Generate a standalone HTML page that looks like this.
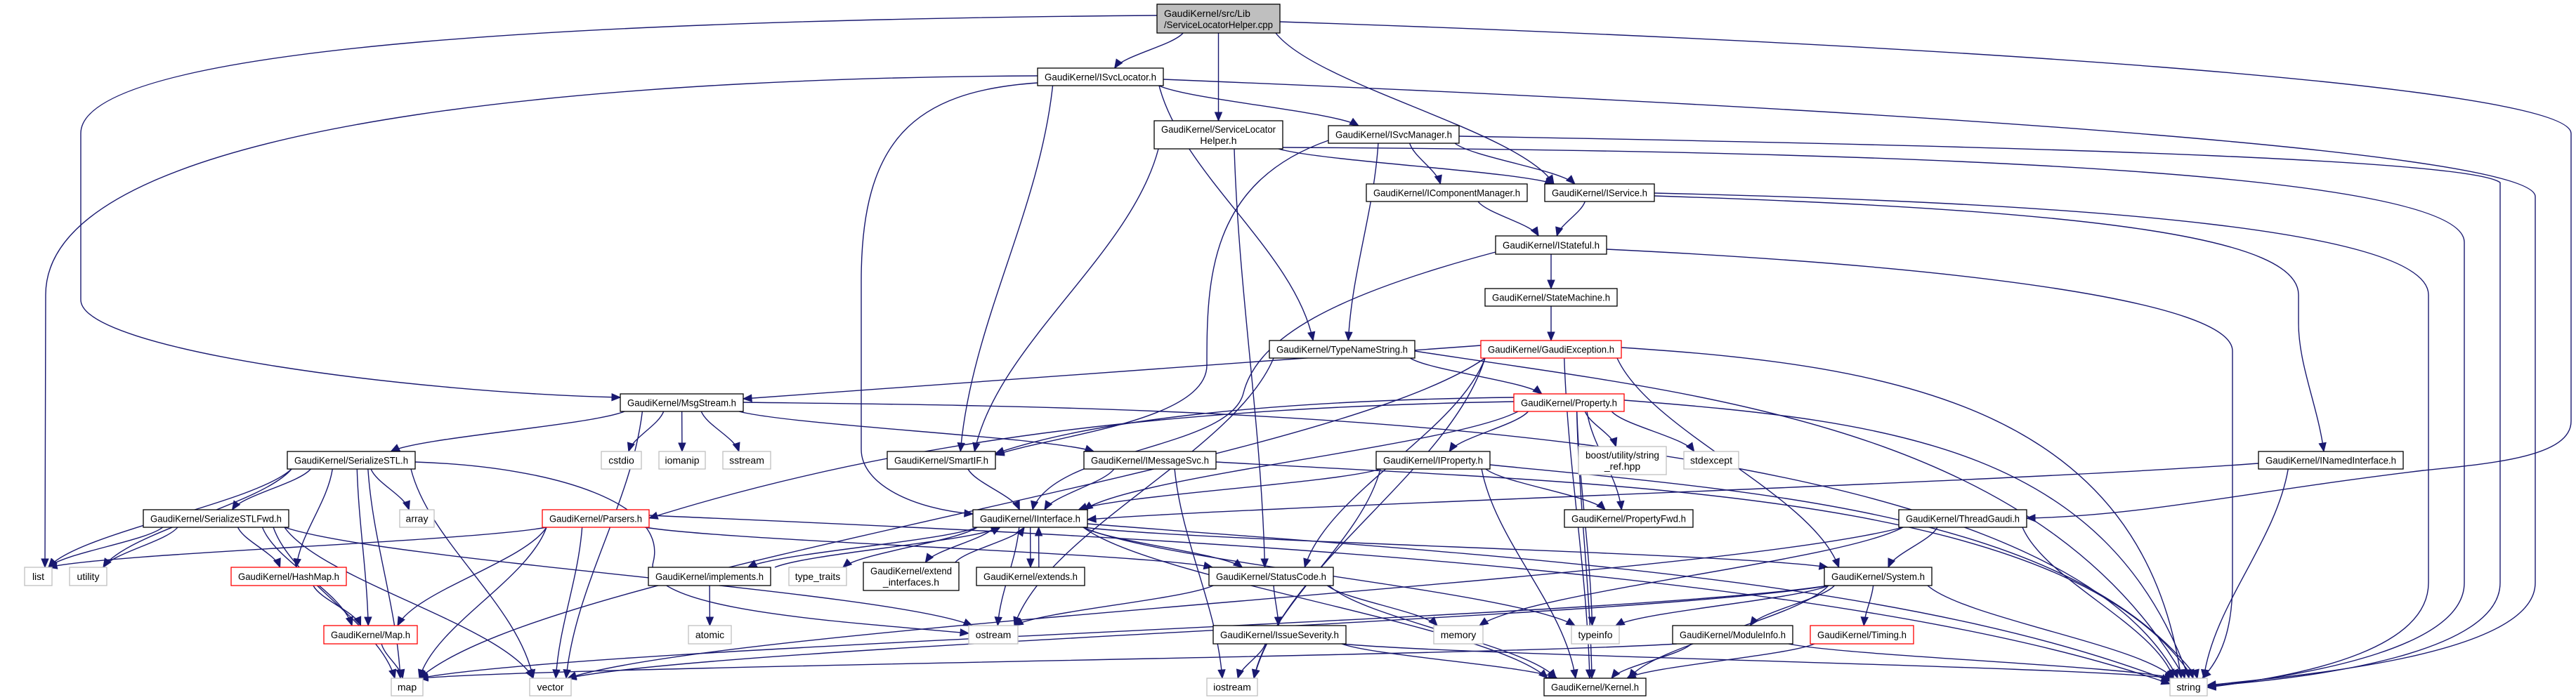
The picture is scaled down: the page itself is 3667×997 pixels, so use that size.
<!DOCTYPE html>
<html><head><meta charset="utf-8"><style>
html,body{margin:0;padding:0;background:#fff;}
svg{display:block;}
text{font-family:"Liberation Sans",Arial,sans-serif;font-size:14px;fill:#000;}
</style></head><body>
<svg id="s" xmlns="http://www.w3.org/2000/svg" width="3667" height="997" viewBox="0 0 3667 997">
<rect width="3667" height="997" fill="#fff"/>
<g id="E" fill="none" stroke="#191970" stroke-width="1.4"></g>
<g id="A" fill="#191970" stroke="#191970" stroke-width="1"></g>
<g id="N">
<rect id="root" x="1647" y="6" width="175" height="41" fill="#bfbfbf" stroke="#000" stroke-width="1.3"/>
<text x="1657" y="24">GaudiKernel/src/Lib</text>
<text x="1657" y="40" textLength="155" lengthAdjust="spacingAndGlyphs">/ServiceLocatorHelper.cpp</text>

<rect id="isl" x="1477" y="97" width="179" height="25" fill="#fff" stroke="#000" stroke-width="1.3"/>
<text x="1566.5" y="114.5" text-anchor="middle" textLength="159" lengthAdjust="spacingAndGlyphs">GaudiKernel/ISvcLocator.h</text>

<rect id="slh" x="1643" y="172" width="183" height="40" fill="#fff" stroke="#000" stroke-width="1.3"/>
<text x="1734.5" y="189" text-anchor="middle" textLength="163" lengthAdjust="spacingAndGlyphs">GaudiKernel/ServiceLocator</text>
<text x="1734.5" y="205" text-anchor="middle">Helper.h</text>

<rect id="ism" x="1891" y="179" width="186" height="25" fill="#fff" stroke="#000" stroke-width="1.3"/>
<text x="1984" y="196.5" text-anchor="middle" textLength="166" lengthAdjust="spacingAndGlyphs">GaudiKernel/ISvcManager.h</text>

<rect id="icm" x="1945" y="262" width="229" height="25" fill="#fff" stroke="#000" stroke-width="1.3"/>
<text x="2059.5" y="279.5" text-anchor="middle" textLength="209" lengthAdjust="spacingAndGlyphs">GaudiKernel/IComponentManager.h</text>

<rect id="isv" x="2199" y="262" width="156" height="25" fill="#fff" stroke="#000" stroke-width="1.3"/>
<text x="2277" y="279.5" text-anchor="middle" textLength="136" lengthAdjust="spacingAndGlyphs">GaudiKernel/IService.h</text>

<rect id="ist" x="2129" y="336" width="158" height="26" fill="#fff" stroke="#000" stroke-width="1.3"/>
<text x="2208" y="354" text-anchor="middle" textLength="138" lengthAdjust="spacingAndGlyphs">GaudiKernel/IStateful.h</text>

<rect id="stm" x="2114" y="411" width="188" height="25" fill="#fff" stroke="#000" stroke-width="1.3"/>
<text x="2208" y="428.5" text-anchor="middle" textLength="168" lengthAdjust="spacingAndGlyphs">GaudiKernel/StateMachine.h</text>

<rect id="tns" x="1807" y="485" width="207" height="25" fill="#fff" stroke="#000" stroke-width="1.3"/>
<text x="1910.5" y="502.5" text-anchor="middle" textLength="187" lengthAdjust="spacingAndGlyphs">GaudiKernel/TypeNameString.h</text>

<rect id="gex" x="2108" y="485" width="200" height="25" fill="#fff" stroke="#ff0000" stroke-width="1.3"/>
<text x="2208" y="502.5" text-anchor="middle" textLength="180" lengthAdjust="spacingAndGlyphs">GaudiKernel/GaudiException.h</text>

<rect id="msg" x="883" y="561" width="175" height="25" fill="#fff" stroke="#000" stroke-width="1.3"/>
<text x="970.5" y="578.5" text-anchor="middle" textLength="155" lengthAdjust="spacingAndGlyphs">GaudiKernel/MsgStream.h</text>

<rect id="cst" x="856" y="643" width="57" height="25" fill="#fff" stroke="#bfbfbf" stroke-width="1.3"/>
<text x="884.5" y="660.5" text-anchor="middle">cstdio</text>
<rect id="iom" x="938" y="643" width="66" height="25" fill="#fff" stroke="#bfbfbf" stroke-width="1.3"/>
<text x="971" y="660.5" text-anchor="middle">iomanip</text>
<rect id="sst" x="1029" y="643" width="68" height="25" fill="#fff" stroke="#bfbfbf" stroke-width="1.3"/>
<text x="1063" y="660.5" text-anchor="middle">sstream</text>

<rect id="sstl" x="409" y="643" width="182" height="25" fill="#fff" stroke="#000" stroke-width="1.3"/>
<text x="500" y="660.5" text-anchor="middle" textLength="162" lengthAdjust="spacingAndGlyphs">GaudiKernel/SerializeSTL.h</text>

<rect id="sstf" x="204" y="726" width="207" height="25" fill="#fff" stroke="#000" stroke-width="1.3"/>
<text x="307.5" y="743.5" text-anchor="middle" textLength="187" lengthAdjust="spacingAndGlyphs">GaudiKernel/SerializeSTLFwd.h</text>

<rect id="arr" x="569" y="726" width="49" height="25" fill="#fff" stroke="#bfbfbf" stroke-width="1.3"/>
<text x="593.5" y="743.5" text-anchor="middle">array</text>

<rect id="par" x="772" y="726" width="152" height="25" fill="#fff" stroke="#ff0000" stroke-width="1.3"/>
<text x="848" y="743.5" text-anchor="middle" textLength="132" lengthAdjust="spacingAndGlyphs">GaudiKernel/Parsers.h</text>

<rect id="lst" x="35" y="808" width="39" height="26" fill="#fff" stroke="#bfbfbf" stroke-width="1.3"/>
<text x="54.5" y="826" text-anchor="middle">list</text>
<rect id="utl" x="99" y="808" width="53" height="26" fill="#fff" stroke="#bfbfbf" stroke-width="1.3"/>
<text x="125.5" y="826" text-anchor="middle">utility</text>

<rect id="hm" x="329" y="808" width="164" height="26" fill="#fff" stroke="#ff0000" stroke-width="1.3"/>
<text x="411" y="826" text-anchor="middle" textLength="144" lengthAdjust="spacingAndGlyphs">GaudiKernel/HashMap.h</text>

<rect id="imp" x="923" y="808" width="174" height="26" fill="#fff" stroke="#000" stroke-width="1.3"/>
<text x="1010" y="826" text-anchor="middle" textLength="154" lengthAdjust="spacingAndGlyphs">GaudiKernel/implements.h</text>

<rect id="tt" x="1123" y="808" width="82" height="26" fill="#fff" stroke="#bfbfbf" stroke-width="1.3"/>
<text x="1164" y="826" text-anchor="middle">type_traits</text>

<rect id="maph" x="461" y="891" width="133" height="26" fill="#fff" stroke="#ff0000" stroke-width="1.3"/>
<text x="527.5" y="909" text-anchor="middle" textLength="113" lengthAdjust="spacingAndGlyphs">GaudiKernel/Map.h</text>

<rect id="atm" x="980" y="891" width="61" height="26" fill="#fff" stroke="#bfbfbf" stroke-width="1.3"/>
<text x="1010.5" y="909" text-anchor="middle">atomic</text>

<rect id="mp" x="557" y="966" width="45" height="25" fill="#fff" stroke="#bfbfbf" stroke-width="1.3"/>
<text x="579.5" y="983.5" text-anchor="middle">map</text>
<rect id="vec" x="754" y="966" width="59" height="25" fill="#fff" stroke="#bfbfbf" stroke-width="1.3"/>
<text x="783.5" y="983.5" text-anchor="middle">vector</text>

<rect id="prop" x="2155" y="561" width="157" height="25" fill="#fff" stroke="#ff0000" stroke-width="1.3"/>
<text x="2233.5" y="578.5" text-anchor="middle" textLength="137" lengthAdjust="spacingAndGlyphs">GaudiKernel/Property.h</text>

<rect id="sif" x="1263" y="643" width="154" height="25" fill="#fff" stroke="#000" stroke-width="1.3"/>
<text x="1340" y="660.5" text-anchor="middle" textLength="134" lengthAdjust="spacingAndGlyphs">GaudiKernel/SmartIF.h</text>

<rect id="ims" x="1543" y="643" width="188" height="25" fill="#fff" stroke="#000" stroke-width="1.3"/>
<text x="1637" y="660.5" text-anchor="middle" textLength="168" lengthAdjust="spacingAndGlyphs">GaudiKernel/IMessageSvc.h</text>

<rect id="ipr" x="1959" y="643" width="162" height="25" fill="#fff" stroke="#000" stroke-width="1.3"/>
<text x="2040" y="660.5" text-anchor="middle" textLength="142" lengthAdjust="spacingAndGlyphs">GaudiKernel/IProperty.h</text>

<rect id="bst" x="2247" y="636" width="125" height="40" fill="#fff" stroke="#bfbfbf" stroke-width="1.3"/>
<text x="2309.5" y="653" text-anchor="middle" textLength="105" lengthAdjust="spacingAndGlyphs">boost/utility/string</text>
<text x="2309.5" y="669" text-anchor="middle">_ref.hpp</text>

<rect id="sex" x="2397" y="643" width="78" height="25" fill="#fff" stroke="#bfbfbf" stroke-width="1.3"/>
<text x="2436" y="660.5" text-anchor="middle">stdexcept</text>

<rect id="ii" x="1385" y="726" width="163" height="25" fill="#fff" stroke="#000" stroke-width="1.3"/>
<text x="1466.5" y="743.5" text-anchor="middle" textLength="143" lengthAdjust="spacingAndGlyphs">GaudiKernel/IInterface.h</text>

<rect id="pfw" x="2227" y="726" width="183" height="25" fill="#fff" stroke="#000" stroke-width="1.3"/>
<text x="2318.5" y="743.5" text-anchor="middle" textLength="163" lengthAdjust="spacingAndGlyphs">GaudiKernel/PropertyFwd.h</text>

<rect id="ext" x="1229" y="801" width="136" height="40" fill="#fff" stroke="#000" stroke-width="1.3"/>
<text x="1297" y="818" text-anchor="middle" textLength="116" lengthAdjust="spacingAndGlyphs">GaudiKernel/extend</text>
<text x="1297" y="834" text-anchor="middle">_interfaces.h</text>

<rect id="exs" x="1390" y="808" width="154" height="26" fill="#fff" stroke="#000" stroke-width="1.3"/>
<text x="1467" y="826" text-anchor="middle" textLength="134" lengthAdjust="spacingAndGlyphs">GaudiKernel/extends.h</text>

<rect id="sc" x="1721" y="808" width="177" height="26" fill="#fff" stroke="#000" stroke-width="1.3"/>
<text x="1809.5" y="826" text-anchor="middle" textLength="157" lengthAdjust="spacingAndGlyphs">GaudiKernel/StatusCode.h</text>

<rect id="ost" x="1379" y="891" width="70" height="26" fill="#fff" stroke="#bfbfbf" stroke-width="1.3"/>
<text x="1414" y="909" text-anchor="middle">ostream</text>

<rect id="iss" x="1727" y="891" width="189" height="26" fill="#fff" stroke="#000" stroke-width="1.3"/>
<text x="1821.5" y="909" text-anchor="middle" textLength="169" lengthAdjust="spacingAndGlyphs">GaudiKernel/IssueSeverity.h</text>

<rect id="mem" x="2041" y="891" width="70" height="26" fill="#fff" stroke="#bfbfbf" stroke-width="1.3"/>
<text x="2076" y="909" text-anchor="middle">memory</text>

<rect id="ti" x="2237" y="891" width="68" height="26" fill="#fff" stroke="#bfbfbf" stroke-width="1.3"/>
<text x="2271" y="909" text-anchor="middle">typeinfo</text>

<rect id="mi" x="2381" y="891" width="171" height="26" fill="#fff" stroke="#000" stroke-width="1.3"/>
<text x="2466.5" y="909" text-anchor="middle" textLength="151" lengthAdjust="spacingAndGlyphs">GaudiKernel/ModuleInfo.h</text>

<rect id="ios" x="1718" y="966" width="72" height="25" fill="#fff" stroke="#bfbfbf" stroke-width="1.3"/>
<text x="1754" y="983.5" text-anchor="middle">iostream</text>

<rect id="ker" x="2198" y="966" width="145" height="25" fill="#fff" stroke="#000" stroke-width="1.3"/>
<text x="2270.5" y="983.5" text-anchor="middle" textLength="125" lengthAdjust="spacingAndGlyphs">GaudiKernel/Kernel.h</text>

<rect id="inm" x="3215" y="643" width="206" height="25" fill="#fff" stroke="#000" stroke-width="1.3"/>
<text x="3318" y="660.5" text-anchor="middle" textLength="186" lengthAdjust="spacingAndGlyphs">GaudiKernel/INamedInterface.h</text>

<rect id="tg" x="2703" y="726" width="182" height="25" fill="#fff" stroke="#000" stroke-width="1.3"/>
<text x="2794" y="743.5" text-anchor="middle" textLength="162" lengthAdjust="spacingAndGlyphs">GaudiKernel/ThreadGaudi.h</text>

<rect id="sys" x="2597" y="808" width="153" height="26" fill="#fff" stroke="#000" stroke-width="1.3"/>
<text x="2673.5" y="826" text-anchor="middle" textLength="133" lengthAdjust="spacingAndGlyphs">GaudiKernel/System.h</text>

<rect id="tim" x="2577" y="891" width="147" height="26" fill="#fff" stroke="#ff0000" stroke-width="1.3"/>
<text x="2650.5" y="909" text-anchor="middle" textLength="127" lengthAdjust="spacingAndGlyphs">GaudiKernel/Timing.h</text>

<rect id="str" x="3089" y="966" width="53" height="25" fill="#fff" stroke="#bfbfbf" stroke-width="1.3"/>
<text x="3115.5" y="983.5" text-anchor="middle">string</text>
</g>
</svg>
<script>
(function(){
var R={};
var rs=document.querySelectorAll('#N rect[id]');
for(var i=0;i<rs.length;i++){var r=rs[i];R[r.id]={x:+r.getAttribute('x'),y:+r.getAttribute('y'),w:+r.getAttribute('width'),h:+r.getAttribute('height')};}
var E=document.getElementById('E'),A=document.getElementById('A'),NS='http://www.w3.org/2000/svg';
function path(d){var p=document.createElementNS(NS,'path');p.setAttribute('d',d);E.appendChild(p);}
function arrow(cx,cy,ex,ey){var dx=ex-cx,dy=ey-cy,l=Math.hypot(dx,dy)||1;dx/=l;dy/=l;var L=12,W=5;var bx=ex-dx*L,by=ey-dy*L;
var p=document.createElementNS(NS,'polygon');p.setAttribute('points',ex+','+ey+' '+(bx-dy*W)+','+(by+dx*W)+' '+(bx+dy*W)+','+(by-dx*W));A.appendChild(p);}
function cl(v,a,b){return Math.max(a,Math.min(b,v));}
function e(s,t,off){off=off||0;var S=R[s],T=R[t];var scx=S.x+S.w/2,tcx=T.x+T.w/2,scy=S.y+S.h/2,tcy=T.y+T.h/2;
 var x1,y1,x2,y2,c1x,c1y,c2x,c2y;
 if(T.y>S.y+S.h+15){
  x1=scx+cl((tcx-scx)*0.3,-S.w/2+6,S.w/2-6)+off;y1=S.y+S.h;
  x2=tcx+cl((scx-tcx)*0.12,-T.w/2+5,T.w/2-5)+off;y2=T.y;
  var dy=y2-y1;c1x=x1+(x2-x1)*0.15;c1y=y1+dy*0.35;c2x=x2-(x2-x1)*0.12;c2y=y2-dy*0.35;
 } else if(T.y+T.h<S.y-15){
  x1=scx+cl((tcx-scx)*0.3,-S.w/2+6,S.w/2-6)+off;y1=S.y;
  x2=tcx+cl((scx-tcx)*0.12,-T.w/2+5,T.w/2-5)+off;y2=T.y+T.h;
  var dy2=y2-y1;c1x=x1+(x2-x1)*0.15;c1y=y1+dy2*0.35;c2x=x2-(x2-x1)*0.12;c2y=y2-dy2*0.35;
 } else {
  if(tcx<scx){x1=S.x;x2=T.x+T.w;}else{x1=S.x+S.w;x2=T.x;}
  y1=scy+off;y2=tcy+off;var dx=x2-x1;c1x=x1+dx*0.4;c1y=y1;c2x=x2-dx*0.4;c2y=y2;
 }
 path('M'+x1+','+y1+' C'+c1x+','+c1y+' '+c2x+','+c2y+' '+x2+','+y2);
 arrow(c2x,c2y,x2,y2);
}
function c(d,cx,cy,ex,ey){path(d);arrow(cx,cy,ex,ey);}
// custom long routes
c('M1647,22 C900,28 115,60 115,190 L115,427 C115,500 600,560 883,566',600,560,883,566);
c('M1477,108 C1000,110 65,150 65,420 L64,808',64,790,64,808);
c('M1822,31 C2700,60 3660,120 3660,190 L3660,600 C3660,650 3550,660 3450,670 C3200,700 3050,735 2885,738',3050,735,2885,738);
c('M1656,113 C2800,160 3609,220 3609,280 L3609,830 C3609,930 3300,960 3142,976',3300,962,3142,976);
c('M2077,194 C3000,210 3520,230 3559,260 L3559,830 C3559,930 3300,965 3142,977',3300,966,3142,977);
c('M1826,210 C2800,215 3508,250 3508,345 L3508,830 C3508,920 3300,960 3142,978',3300,966,3142,978);
c('M2355,275 C3000,290 3457,330 3457,420 L3457,830 C3457,920 3300,960 3142,979',3300,967,3142,979);
c('M2355,279 C3000,300 3272,340 3272,420 L3272,460 C3272,520 3300,580 3308,643',3303,610,3308,643);
c('M2287,355 C2800,380 3178,430 3178,500 L3178,830 C3178,900 3160,940 3135,966',3160,940,3135,966);
c('M1477,118 C1300,130 1226,200 1226,400 L1226,640 C1226,690 1300,725 1385,732',1300,725,1385,732);
c('M2108,492 C1700,520 1300,550 1058,568',1300,550,1058,568);
c('M2155,566 C1800,570 1550,600 1417,646',1550,600,1417,646);
c('M2155,572 C1700,580 1300,620 924,738',1300,620,924,738);
c('M591,658 C800,665 950,720 930,800 C910,870 1200,885 1379,902',1200,885,1379,902);
c('M2129,359 C1900,420 1790,480 1770,560 C1750,640 1500,640 1470,726',1480,680,1470,726);
c('M1891,200 C1720,260 1718,400 1718,520 C1718,600 1500,620 1417,648',1500,620,1417,648);
c('M3215,660 C2800,690 1800,720 1548,740',1800,720,1548,740);
c('M1058,573 C1600,580 2900,580 3100,966',3000,700,3100,966);
c('M2308,495 C2700,520 3050,580 3105,966',3080,700,3105,966);
c('M2014,500 C2400,560 2900,600 3110,966',3050,700,3110,966);
c('M2312,570 C2700,600 3000,640 3116,966',3080,750,3116,966);
c('M1731,658 C2300,690 2950,700 3122,966',3060,780,3122,966);
c('M2121,662 C2500,700 2950,730 3128,966',3090,800,3128,966);
c('M1548,746 C2100,790 2700,820 3089,970',2700,820,3089,970);
c('M924,734 C1500,760 2600,800 3089,974',2600,800,3089,974);
var L=[['root','isl'],['root','slh'],['root','isv'],['isl','ism'],['isl','tns'],['isl','sif'],
['slh','isv'],['slh','sif'],['slh','sc'],['ism','icm'],['ism','isv'],['ism','tns'],
['icm','ist'],['isv','ist'],['ist','stm'],['stm','gex'],['tns','prop'],['tns','ost'],
['gex','sc'],['gex','ios'],['gex','sys'],['gex','ker'],['gex','mp'],
['msg','sstl'],['msg','cst'],['msg','iom'],['msg','sst'],['msg','vec'],['msg','ims'],
['prop','ipr'],['prop','bst'],['prop','sex'],['prop','pfw'],['prop','ti'],['prop','ker'],['prop','ii'],
['sstl','sstf'],['sstl','hm'],['sstl','maph'],['sstl','arr'],['sstl','vec'],['sstl','lst'],['sstl','utl'],['sstl','mp'],
['sstf','lst'],['sstf','utl'],['sstf','hm'],['sstf','maph'],['sstf','mp'],['sstf','vec'],['sstf','ost'],
['par','lst'],['par','maph'],['par','mp'],['par','vec'],['par','sc'],
['hm','maph'],['maph','mp'],['imp','atm'],
['ii','imp'],['ii','ext'],['ii','exs'],['ii','tt'],['ii','ost'],['ii','sc'],['ii','sys'],['ii','ker'],['ii','ti'],
['sif','ii'],['ims','ii'],['ims','ios'],['ipr','ii'],['ipr','pfw'],['ipr','ios'],['ipr','ker'],
['sc','ost'],['sc','iss'],['sc','mem'],['sc','ker'],['iss','ios'],['iss','ker'],['iss','str'],
['inm','str'],['tg','sys'],['tg','str'],['tg','mem'],['tg','vec'],
['sys','mi'],['sys','tim'],['sys','ker'],['sys','ti'],['sys','str'],['sys','mp'],['sys','vec'],
['mi','ker'],['mi','str'],['mi','mp'],['tim','ker']];
for(var k=0;k<L.length;k++)e(L[k][0],L[k][1]);
e('imp','ii',12);e('ext','ii',12);e('exs','ii',12);
})();
</script>
</body></html>
